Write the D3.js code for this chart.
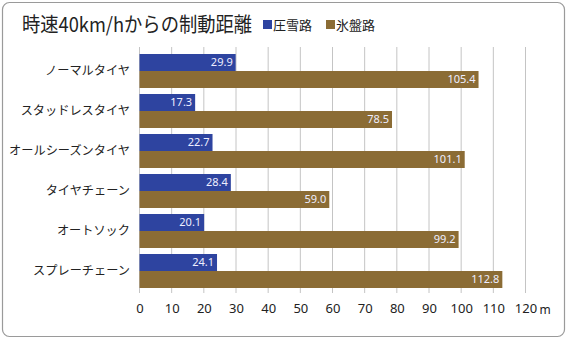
<!DOCTYPE html>
<html><head><meta charset="utf-8">
<script src="https://cdn.jsdelivr.net/npm/d3@7"></script>
<style>
html,body{margin:0;padding:0;background:#fff;}
svg{display:block;font-family:"Noto Sans CJK JP","Noto Sans",sans-serif;}
</style></head>
<body>
<svg id="c" width="567" height="340"></svg>
<script>
const title = "時速40km/hからの制動距離";
const categories = ["ノーマルタイヤ","スタッドレスタイヤ","オールシーズンタイヤ","タイヤチェーン","オートソック","スプレーチェーン"];
const seriesNames = ["圧雪路","氷盤路"];
const packedSnow = [29.9, 17.3, 22.7, 28.4, 20.1, 24.1];
const iceRoad = [105.4, 78.5, 101.1, 59.0, 99.2, 112.8];
const tickValues = [0,10,20,30,40,50,60,70,80,90,100,110,120];
const unit = "m";
const colors = ["#2e44a0", "#8b6c35"];

const svg = d3.select("#c");
// frame
svg.append("rect").attr("x",2.5).attr("y",2.5).attr("width",562).attr("height",334)
  .attr("rx",7).attr("fill","#fff").attr("stroke","#9a9a9a").attr("stroke-width",1.2);

const x = d3.scaleLinear().domain([0,120]).range([139.5,525.5]);
const y = d3.scaleBand().domain(categories).range([48,288]).paddingInner(0).paddingOuter(0);
const barH = 17, off = 6;

// gridlines
svg.append("g").selectAll("line").data(tickValues).join("line")
  .attr("x1",d=>x(d)).attr("x2",d=>x(d)).attr("y1",47).attr("y2",293)
  .attr("stroke","#c4c4c4").attr("stroke-width",1);

// x axis labels
const axis = d3.axisBottom(x).tickValues(tickValues).tickSize(0).tickPadding(0);
const ag = svg.append("g").attr("transform","translate(0,304)").call(axis);
ag.select(".domain").remove();
ag.selectAll("text").attr("font-size",13).attr("fill","#222")
  .attr("font-family","'Noto Sans', sans-serif");
svg.append("text").attr("x",x(120)+14).attr("y",314).attr("font-size",12).attr("fill","#222")
  .attr("font-family","'Noto Sans', sans-serif").text(unit);

// category labels
svg.append("g").selectAll("text").data(categories).join("text")
  .attr("x",130).attr("y",d=>y(d)+off+barH).attr("dy","0.35em")
  .attr("text-anchor","end").attr("font-size",12.2).attr("fill","#222").text(d=>d);

// bars
const series = [packedSnow, iceRoad];
series.forEach((vals,si)=>{
  const g = svg.append("g");
  g.selectAll("rect").data(vals).join("rect")
    .attr("x",x(0)).attr("y",(d,i)=>y(categories[i])+off+si*barH)
    .attr("width",d=>x(d)-x(0)).attr("height",barH).attr("fill",colors[si]);
  g.selectAll("text").data(vals).join("text")
    .attr("x",d=>x(d)-3).attr("y",(d,i)=>y(categories[i])+off+si*barH+barH/2)
    .attr("dy","0.36em").attr("text-anchor","end").attr("font-size",11)
    .attr("font-family","'Noto Sans', sans-serif")
    .attr("fill","#eef").text(d=>d.toFixed(1));
});

// title
svg.append("text").attr("x",22).attr("y",32).attr("font-size",20).attr("fill","#222")
  .attr("textLength",230).attr("lengthAdjust","spacingAndGlyphs").text(title);

// legend
const lx = [263, 326];
seriesNames.forEach((n,i)=>{
  svg.append("rect").attr("x",lx[i]).attr("y",20).attr("width",9).attr("height",9).attr("fill",colors[i]);
  svg.append("text").attr("x",lx[i]+10).attr("y",29.5).attr("font-size",13).attr("fill","#222").text(n);
});
</script>
</body></html>
